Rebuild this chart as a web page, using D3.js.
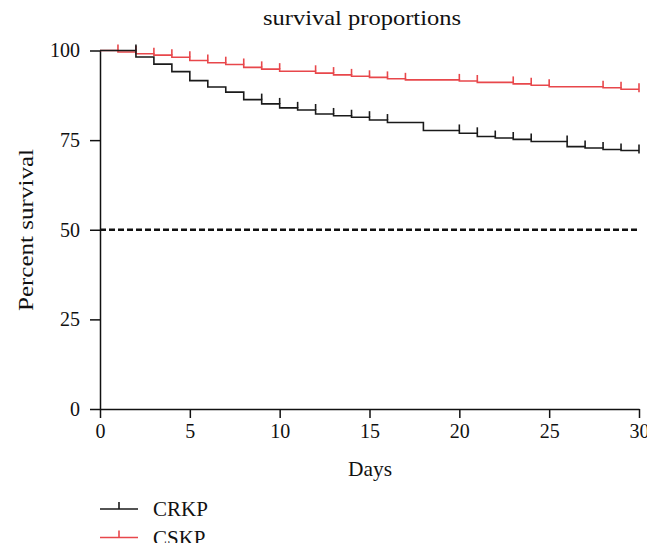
<html>
  <head>
   <script src="https://d3js.org/d3.v7.min.js"></script>
   <style>
    body{
    	margin:0;
    	background:#fff;
    }
    text{
    	font-family:"Liberation Serif", "DejaVu Serif", serif;
    	fill:#111;
    }
   </style>
  </head>
  <body>
  <div id="graph"></div>
   <script>
     // step times (days) and survival values (%)
     var crkpDays   = [0, 2, 3, 4, 5, 6, 7, 8, 9, 10, 11, 12, 13, 14, 15, 16, 18, 20, 21, 22, 23, 24, 26, 27, 28, 29, 30];
     var crkpValues = [100, 98.2, 96.2, 94.1, 91.6, 89.8, 88.4, 86.3, 85.1, 84.0, 83.4, 82.3, 81.8, 81.4, 80.6, 79.9, 77.7, 76.9, 76.0, 75.6, 75.2, 74.6, 73.2, 72.8, 72.4, 72.1, 72.1];
     var crkpCensor = [2, 9, 10, 11, 12, 13, 14, 15, 16, 20, 21, 22, 23, 24, 26, 27, 28, 29, 30];

     var cskpDays   = [0, 1, 2, 3, 4, 5, 6, 7, 8, 9, 10, 12, 13, 14, 15, 16, 17, 20, 21, 23, 24, 25, 28, 29, 30];
     var cskpValues = [100, 99.6, 99.1, 98.7, 98.1, 97.2, 96.6, 96.1, 95.3, 94.8, 94.2, 93.7, 93.2, 92.8, 92.5, 92.1, 91.8, 91.5, 91.1, 90.7, 90.3, 89.9, 89.6, 89.2, 89.2];
     var cskpCensor = [1, 2, 3, 4, 5, 6, 7, 8, 9, 10, 12, 13, 14, 15, 16, 17, 20, 21, 23, 24, 25, 28, 29, 30];

     var xTicks = [0, 5, 10, 15, 20, 25, 30];
     var yTicks = [0, 25, 50, 75, 100];
     var medianLine = 50;

     var series = [
       {name: "CRKP", days: crkpDays, values: crkpValues, censor: crkpCensor, color: "#1a1a1a"},
       {name: "CSKP", days: cskpDays, values: cskpValues, censor: cskpCensor, color: "#e8474b"}
     ];

     var width = 661;
     var height = 558;

     var svg = d3.select("#graph")
       .append('svg')
       .attr('width', width)
       .attr('height', height);

     // the source picture is cut off on the right and bottom
     svg.append('clipPath').attr('id', 'pageclip')
       .append('rect').attr('x', 0).attr('y', 0).attr('width', 647).attr('height', 543);
     var root = svg.append('g').attr('clip-path', 'url(#pageclip)');

     var x = d3.scaleLinear().domain([0, 30]).range([100, 639]);
     var y = d3.scaleLinear().domain([0, 100]).range([409, 50.5]);

     // axes
     root.append('g')
       .attr('transform', 'translate(0,' + y(0) + ')')
       .call(d3.axisBottom(x).tickValues(xTicks).tickSize(9).tickPadding(6).tickSizeOuter(0))
       .call(g => g.selectAll('text').attr('font-size', 20).style('font-family', '"Liberation Serif", serif').attr('fill', '#111'))
       .call(g => g.selectAll('line, path').attr('stroke', '#111').attr('stroke-width', 1.5));

     root.append('g')
       .attr('transform', 'translate(' + x(0) + ',0)')
       .call(d3.axisLeft(y).tickValues(yTicks).tickSize(10).tickPadding(10).tickSizeOuter(0))
       .call(g => g.selectAll('text').attr('font-size', 20).style('font-family', '"Liberation Serif", serif').attr('fill', '#111'))
       .call(g => g.selectAll('line, path').attr('stroke', '#111').attr('stroke-width', 1.5));

     // 50% reference
     root.append('line')
       .attr('x1', x(0)).attr('x2', x(30))
       .attr('y1', y(medianLine)).attr('y2', y(medianLine))
       .attr('stroke', '#111')
       .attr('stroke-width', 2.6)
       .attr('stroke-dasharray', '6,3');

     var line = d3.line()
       .x(d => x(d[0]))
       .y(d => y(d[1]))
       .curve(d3.curveStepAfter);

     // CSKP first so CRKP sits on top at 100%
     series.slice().reverse().forEach(function(s) {
       var pts = s.days.map((d, i) => [d, s.values[i]]);
       root.append('path')
         .attr('d', line(pts))
         .attr('fill', 'none')
         .attr('stroke', s.color)
         .attr('stroke-width', 1.6);

       // censor ticks, drawn up from the level just before the time
       root.append('g').selectAll('line')
         .data(s.censor)
         .enter()
         .append('line')
         .attr('x1', d => x(d)).attr('x2', d => x(d))
         .attr('y1', function(d) {
            var i = d3.bisectLeft(s.days, d);
            var v = s.values[Math.max(0, i - 1)];
            return y(v) + (d == 30 ? 3 : 0);
         })
         .attr('y2', function(d) {
            var i = d3.bisectLeft(s.days, d);
            var v = s.values[Math.max(0, i - 1)];
            return y(v) - 6;
         })
         .attr('stroke', s.color)
         .attr('stroke-width', 1.6);
     });

     // titles
     root.append('text')
       .attr('x', 362).attr('y', 25)
       .attr('text-anchor', 'middle')
       .attr('font-size', 22)
       .attr('textLength', 198)
       .attr('lengthAdjust', 'spacingAndGlyphs')
       .text('survival proportions');

     root.append('text')
       .attr('x', 370).attr('y', 476)
       .attr('text-anchor', 'middle')
       .attr('font-size', 22)
       .attr('textLength', 44)
       .attr('lengthAdjust', 'spacingAndGlyphs')
       .text('Days');

     root.append('text')
       .attr('transform', 'translate(33,230) rotate(-90)')
       .attr('text-anchor', 'middle')
       .attr('font-size', 22)
       .attr('textLength', 162)
       .attr('lengthAdjust', 'spacingAndGlyphs')
       .text('Percent survival');

     // legend
     series.forEach(function(s, i) {
       var ly = 509 + i * 28.5;
       root.append('line')
         .attr('x1', 100).attr('x2', 138)
         .attr('y1', ly).attr('y2', ly)
         .attr('stroke', s.color).attr('stroke-width', 1.6);
       root.append('line')
         .attr('x1', 119).attr('x2', 119)
         .attr('y1', ly).attr('y2', ly - 7)
         .attr('stroke', s.color).attr('stroke-width', 1.6);
       root.append('text')
         .attr('x', 153).attr('y', ly + 7)
         .attr('font-size', 21)
         .text(s.name);
     });
  </script>
 </body>
</html>
